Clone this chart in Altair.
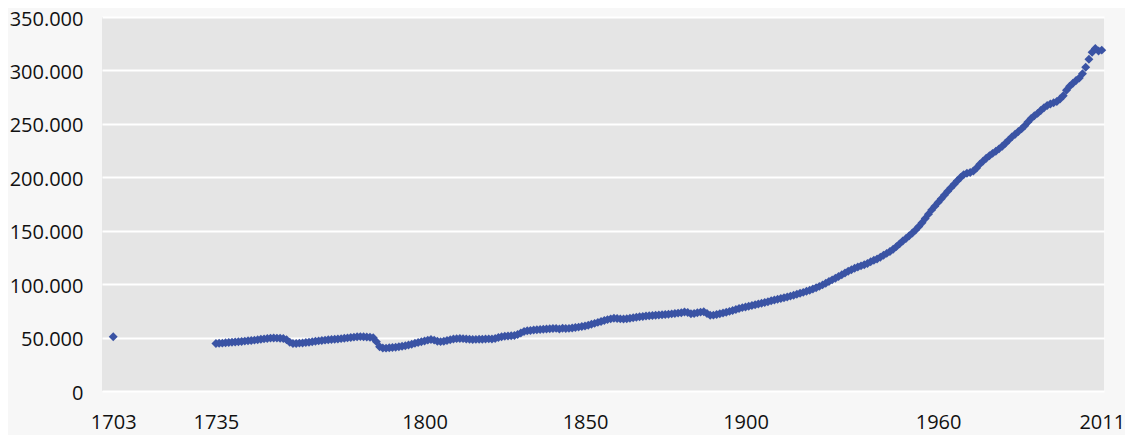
import altair as alt
import pandas as pd

# Population (in thousands)
early_years = [1703]
early_values = [50.8]

start_year = 1735
values = [
    44.4, 44.6, 44.8, 45.1, 45.4, 45.7, 45.9, 46.1, 46.4, 46.7,   # 1735-1744
    47.0, 47.3, 47.6, 48.0, 48.4, 48.8, 49.2, 49.5, 49.6, 49.5,   # 1745-1754
    49.4, 49.2, 48.0, 45.6, 44.4, 44.5, 44.8, 45.0, 45.3, 45.7,   # 1755-1764
    46.1, 46.5, 46.9, 47.2, 47.6, 47.9, 48.2, 48.4, 48.7, 49.0,   # 1765-1774
    49.4, 49.7, 50.0, 50.4, 50.7, 50.9, 50.8, 50.6, 50.3, 49.8,   # 1775-1784
    46.2, 41.5, 40.2, 40.1, 40.4, 40.7, 41.0, 41.4, 41.8, 42.3,   # 1785-1794
    43.0, 43.8, 44.6, 45.3, 46.0, 46.8, 47.6, 48.2, 47.6, 46.6,   # 1795-1804
    46.2, 46.6, 47.3, 48.0, 48.6, 49.0, 49.2, 49.0, 48.7, 48.4,   # 1805-1814
    48.2, 48.3, 48.5, 48.4, 48.6, 48.8, 48.7, 49.2, 50.0, 50.7,   # 1815-1824
    51.2, 51.5, 51.7, 51.9, 52.8, 54.3, 55.6, 56.3, 56.7, 57.1,   # 1825-1834
    57.4, 57.6, 57.8, 58.0, 58.2, 58.4, 58.6, 58.1, 58.7, 58.5,   # 1835-1844
    58.6, 58.9, 59.4, 59.8, 60.3, 60.9, 61.6, 62.4, 63.3, 64.2,   # 1845-1854
    65.1, 66.0, 66.8, 67.5, 68.0, 67.8, 67.5, 67.3, 67.6, 68.0,   # 1855-1864
    68.5, 69.0, 69.4, 69.8, 70.1, 70.4, 70.7, 70.9, 71.1, 71.3,   # 1865-1874
    71.6, 71.9, 72.2, 72.5, 72.9, 73.3, 74.0, 73.5, 72.3, 72.6,   # 1875-1884
    73.2, 73.8, 74.2, 72.5, 70.8, 71.0, 71.6, 72.3, 73.0, 73.7,   # 1885-1894
    74.5, 75.3, 76.2, 77.2, 78.0, 78.7, 79.4, 80.1, 80.8, 81.5,   # 1895-1904
    82.2, 82.9, 83.6, 84.4, 85.1, 85.8, 86.5, 87.2, 88.0, 88.8,   # 1905-1914
    89.6, 90.5, 91.4, 92.3, 93.3, 94.3, 95.5, 96.7, 97.9, 99.3,   # 1915-1924
    100.8, 102.4, 104.0, 105.6, 107.2, 108.8, 110.4, 112.0, 113.5, 114.8,  # 1925-1934
    116.0, 117.1, 118.2, 119.3, 121.0, 122.3, 123.5, 125.2, 127.0, 128.8,  # 1935-1944
    130.5, 132.7, 135.1, 137.7, 140.3, 142.8, 145.3, 147.8, 150.7, 154.0,  # 1945-1954
    157.5, 161.5, 165.5, 169.5, 173.0, 176.5, 180.0, 183.5, 187.0, 190.3,  # 1955-1964
    193.5, 196.7, 199.8, 202.5, 203.7, 204.5, 205.8, 208.6, 212.3, 215.1,  # 1965-1974
    217.8, 220.2, 222.4, 224.4, 226.6, 229.0, 231.8, 234.8, 237.8, 240.2,  # 1975-1984
    242.8, 245.3, 248.3, 251.8, 255.0, 257.5, 259.8, 262.5, 265.0, 267.2,  # 1985-1994
    268.6, 269.7, 271.0, 273.2, 276.3, 281.5, 285.2, 288.0, 290.5, 293.0,  # 1995-2004
    297.0, 303.0, 310.5, 317.0, 320.5, 318.2, 319.0,                      # 2005-2011
]

x_ticks = [1703, 1735, 1800, 1850, 1900, 1960, 2011]
y_ticks = [0, 50000, 100000, 150000, 200000, 250000, 300000, 350000]

years = early_years + list(range(start_year, start_year + len(values)))
pops = [v * 1000 for v in early_values + values]
df = pd.DataFrame({"year": years, "pop": pops})

FONT = "Open Sans"

chart = (
    alt.Chart(df)
    .mark_point(shape="diamond", filled=True, size=80, opacity=1, color="#3a53a4")
    .encode(
        x=alt.X(
            "year:Q",
            scale=alt.Scale(domain=[1699.5, 2011.7], nice=False, zero=False),
            axis=alt.Axis(
                values=x_ticks,
                format="d",
                title=None,
                grid=False,
                domain=False,
                ticks=False,
                labelPadding=21,
                labelFontSize=20,
                labelFont=FONT,
                labelColor="#111111",
                labelFlush=False,
                labelOverlap=False,
            ),
        ),
        y=alt.Y(
            "pop:Q",
            scale=alt.Scale(domain=[0, 350000], nice=False),
            axis=alt.Axis(
                values=y_ticks,
                labelExpr="replace(format(datum.value, ',.0f'), ',', '.')",
                title=None,
                grid=True,
                gridColor="#ffffff",
                gridWidth=2,
                gridOpacity=1,
                domain=False,
                ticks=False,
                labelPadding=19,
                labelFontSize=20,
                labelFont=FONT,
                labelColor="#111111",
                labelOffset=2,
                labelFlush=False,
                labelOverlap=False,
            ),
        ),
    )
    .properties(
        width=1002,
        height=374,
        background="#f7f7f7",
        padding={"left": 94, "top": 9, "right": 21, "bottom": 46},
        autosize=alt.AutoSizeParams(type="none"),
    )
    .configure_view(fill="#e5e5e5", stroke=None)
)

chart.save("out.html", embed_options={"renderer": "svg", "actions": False})
